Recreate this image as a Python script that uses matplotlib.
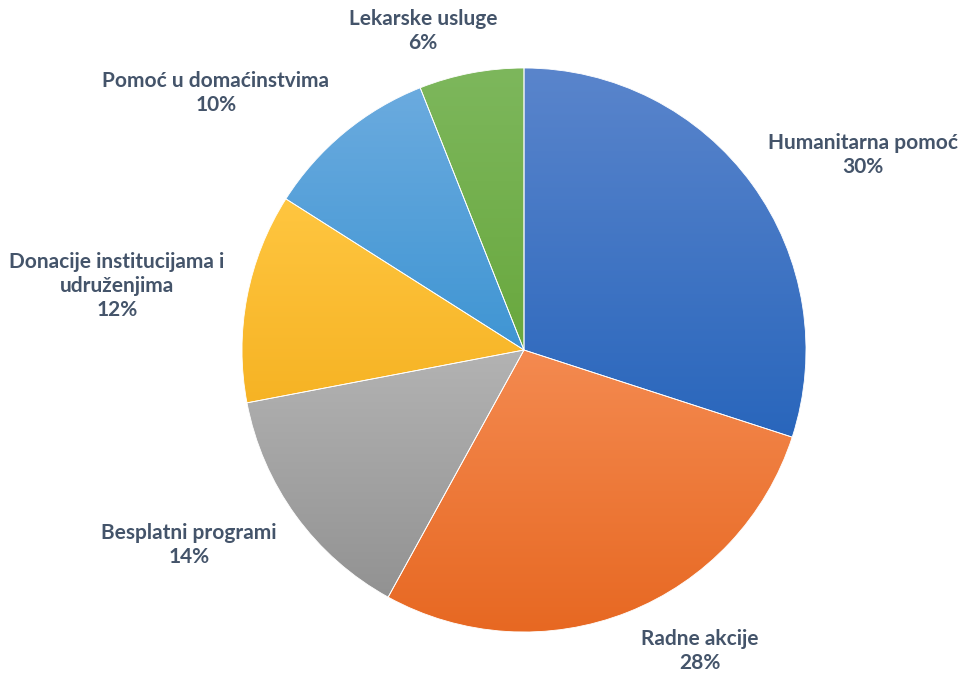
import numpy as np
import matplotlib
matplotlib.use("Agg")
import matplotlib.pyplot as plt
from matplotlib.colors import LinearSegmentedColormap

# slice data, clockwise from 12 o'clock
labels = ["Humanitarna pomoć", "Radne akcije", "Besplatni programi",
          "Donacije institucijama i\nudruženjima", "Pomoć u domaćinstvima",
          "Lekarske usluge"]
values = [30, 28, 14, 12, 10, 6]

# gradient colours (top, bottom) per slice
top_colors = ["#5A85CC", "#F48A50", "#B3B3B3", "#FFC640", "#6BABDF", "#7DB75C"]
bottom_colors = ["#2966BC", "#E76822", "#929292", "#F6B324", "#3F95D3", "#69A83E"]

# label centres in pixels (x from left, y from top)
label_pos = [(863, 155), (700, 651), (189, 545), (117, 286), (216, 93), (423, 31)]

W, H = 961, 675
cx, cy, r = 524, H - 350, 282

fig = plt.figure(figsize=(W / 100, H / 100), dpi=100)
ax = fig.add_axes([0, 0, 1, 1])

wedges, _ = ax.pie(values, startangle=90, counterclock=False, radius=r,
                   center=(cx, cy), frame=True,
                   wedgeprops=dict(edgecolor="white", linewidth=0.6))
ax.set_xlim(0, W)
ax.set_ylim(0, H)
ax.axis("off")

grad = np.linspace(0, 1, 256).reshape(-1, 1)
for w, c0, c1 in zip(wedges, top_colors, bottom_colors):
    w.set_facecolor("none")
    bb = w.get_path().get_extents(w.get_patch_transform())
    cmap = LinearSegmentedColormap.from_list("g", [c1, c0])
    im = ax.imshow(grad, cmap=cmap, aspect="auto", origin="lower",
                   extent=(bb.x0, bb.x1, bb.y0, bb.y1), zorder=1)
    im.set_clip_path(w)
    w.set_zorder(2)

for (px, py), lab, v in zip(label_pos, labels, values):
    ax.text(px, H - py, f"{lab}\n{v}%", ha="center", va="center",
            fontsize=15, fontweight="bold", family="Lato", color="#44546A",
            linespacing=1.25)

fig.savefig("out.png", dpi=100)
